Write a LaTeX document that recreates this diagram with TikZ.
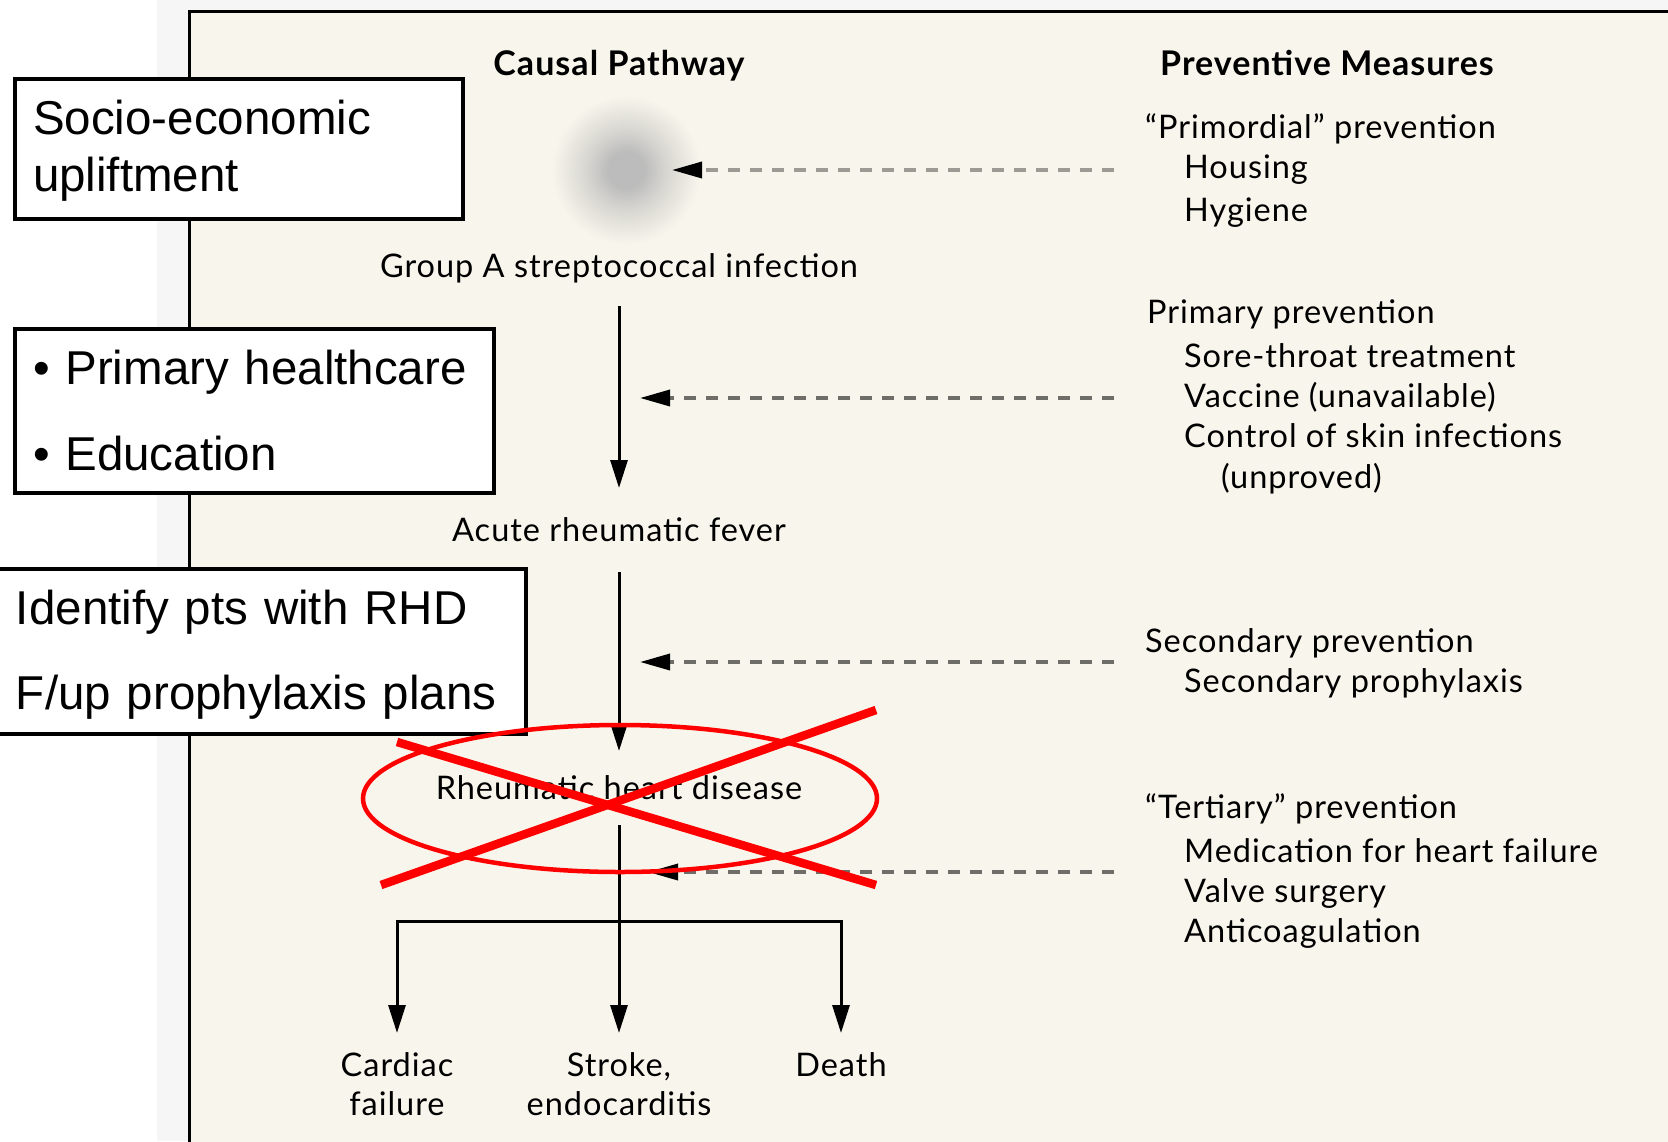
\documentclass[tikz,border=0pt]{standalone}
\usepackage{fontspec}
\setmainfont{Lato}
\newfontfamily\pfont[LetterSpace=3]{Lato}
\newfontfamily\arialf{Liberation Sans}
\usetikzlibrary{arrows.meta}
\definecolor{panelbg}{HTML}{F8F6EC}
\definecolor{stripbg}{HTML}{F6F6F6}
\definecolor{dashc}{HTML}{6E6D68}
\definecolor{dashl}{HTML}{9C9A92}
\definecolor{blobc}{HTML}{BCBCBC}
\definecolor{blobm}{HTML}{D6D5D0}
\definecolor{redx}{HTML}{FF0000}
\pgfdeclareradialshading{blobshade}{\pgfpoint{0bp}{0bp}}{color(0bp)=(blobc); color(6bp)=(blobc); color(13bp)=(blobm); color(25bp)=(panelbg); color(50bp)=(panelbg)}
\tikzset{
  hdr/.style={font=\pfont\fontsize{34}{40}\selectfont\bfseries, inner sep=0pt},
  ptext/.style={font=\pfont\fontsize{32.5}{38}\selectfont, inner sep=0pt, anchor=base},
  otext/.style={font=\pfont\fontsize{32.5}{39.5}\selectfont, inner sep=0pt, anchor=north, align=center},
  rtext/.style={font=\pfont\fontsize{32.5}{38}\selectfont, inner sep=0pt, anchor=base west},
  boxnode/.style={draw=black, line width=4pt, fill=white, anchor=north west, align=left,
    font=\arialf\fontsize{47.5}{57}\selectfont, inner ysep=0pt},
  varrow/.style={line width=3pt, -{Triangle[length=28pt,width=17pt]}},
  darrow/.style={line width=3.5pt, dashc, dash pattern=on 12pt off 10pt, -{Triangle[length=30pt,width=16pt,color=black]}},
  redmark/.style={draw=redx, line width=4.5pt},
  xmark/.style={draw=redx, line width=8.5pt}
}
\begin{document}
\begin{tikzpicture}[x=1pt,y=-1pt]
\useasboundingbox (0,0) rectangle (1668,1141);
\clip (0,0) rectangle (1668,1141);
% backgrounds
\fill[white] (0,0) rectangle (1668,1141);
\fill[stripbg] (157,0) rectangle (1668,1141);
\fill[panelbg] (189,11) rectangle (1690,1160);
\draw[line width=3pt] (1690,11) -- (189,11) -- (189,1160);

% blob
\shade[shading=blobshade] (626,170) circle (75);
\coordinate (blob) at (672,170);

% headers
\node[hdr, anchor=base] (hcp) at (619,75) {Causal Pathway};
\node[hdr, anchor=base west] (hpm) at (1160,75) {Preventive Measures};

% pathway
\node[ptext] (gas) at (619,277) {Group A streptococcal infection};
\node[ptext] (arf) at (619,541) {Acute rheumatic fever};
\node[ptext] (rhd) at (619,799) {Rheumatic heart disease};
\node[otext] (cf) at (397,1052) {Cardiac\\failure};
\node[otext] (se) at (619,1052) {Stroke,\\endocarditis};
\node[otext] (de) at (841,1052) {Death};
\coordinate (split) at (619,921);

\draw[varrow, shorten <=29pt, shorten >=53pt] (gas.base) -- (arf.base);
\draw[varrow, shorten <=31pt, shorten >=48pt] (arf.base) -- (rhd.base);
\draw[varrow, shorten <=26pt, shorten >=19pt] (rhd.base) -- (se.north);
\draw[varrow, shorten >=19pt] (split) -| (cf.north);
\draw[varrow, shorten >=19pt] (split) -| (de.north);

% preventive measures
\node[rtext] (pm1) at (1145,138) {“Primordial” prevention};
\node[rtext] (pm1a) at (1184,178) {Housing};
\node[rtext] (pm1b) at (1184,221) {Hygiene};
\node[rtext] (pm2) at (1147,323) {Primary prevention};
\node[rtext] (pm2a) at (1184,367) {Sore-throat treatment};
\node[rtext] (pm2b) at (1184,407) {Vaccine (unavailable)};
\node[rtext] (pm2c) at (1184,447) {Control of skin infections};
\node[rtext] (pm2d) at (1221,488) {(unproved)};
\node[rtext] (pm3) at (1145,652) {Secondary prevention};
\node[rtext] (pm3a) at (1184,692) {Secondary prophylaxis};
\node[rtext] (pm4) at (1145,818) {“Tertiary” prevention};
\node[rtext] (pm4a) at (1184,862) {Medication for heart failure};
\node[rtext] (pm4b) at (1184,902) {Valve surgery};
\node[rtext] (pm4c) at (1184,942) {Anticoagulation};

% dashed arrows
\coordinate (d1s) at (1114,170);
\coordinate (d2s) at (1114,398);
\coordinate (d2e) at (640,398);
\coordinate (d3s) at (1114,662);
\coordinate (d3e) at (640,662);
\coordinate (d4s) at (1114,872);
\coordinate (d4e) at (648,872);
\draw[darrow, dashl] (d1s) -- (blob);
\draw[darrow] (d2s) -- (d2e);
\draw[darrow] (d3s) -- (d3e);
\draw[darrow] (d4s) -- (d4e);

% overlay boxes
\node[boxnode, minimum width=448.5pt, minimum height=140pt, inner xsep=18.5pt, text width=411.5pt] (bx1) at (12.5,77) {\mbox{\rule{0pt}{38pt}Socio-economic}\\\mbox{upliftment}};
\node[boxnode, minimum width=479.5pt, minimum height=164pt, inner xsep=18.5pt, text width=442.5pt, font=\arialf\fontsize{47.5}{86}\selectfont] (bx2) at (12.5,327) {\mbox{• Primary healthcare}\\\mbox{• Education}};
\node[boxnode, minimum width=533.5pt, minimum height=165pt, inner xsep=24pt, text width=485.5pt, font=\arialf\fontsize{47.5}{85}\selectfont] (bx3) at (-10,567) {\mbox{\rule{0pt}{40pt}Identify pts with RHD}\\\mbox{F/up prophylaxis plans}};

% red annotation
\draw[redmark] (620,798.5) ellipse [x radius=257, y radius=73.5];
\draw[xmark] (397,742) -- (876,885);
\draw[xmark] (381,885) -- (876,710);
\end{tikzpicture}
\end{document}
